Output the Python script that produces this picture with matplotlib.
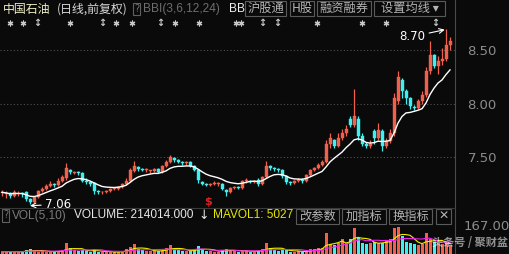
import matplotlib
matplotlib.use("Agg")
import matplotlib.pyplot as plt
from matplotlib.patches import Rectangle
import numpy as np
import pandas as pd

# daily candles, oldest first
opens = [7.16, 7.15, 7.16, 7.14, 7.16, 7.16, 7.17, 7.11, 7.08, 7.13,
         7.18, 7.20, 7.23, 7.25, 7.24, 7.28, 7.30, 7.38, 7.35, 7.36,
         7.35, 7.28, 7.27, 7.26, 7.18, 7.17, 7.17, 7.18, 7.20, 7.20,
         7.22, 7.25, 7.28, 7.37, 7.41, 7.39, 7.38, 7.37, 7.37, 7.39,
         7.36, 7.42, 7.45, 7.49, 7.47, 7.45, 7.44, 7.45, 7.42, 7.38,
         7.27, 7.25, 7.24, 7.25, 7.25, 7.25, 7.19, 7.17, 7.21, 7.22,
         7.21, 7.28, 7.28, 7.27, 7.29, 7.25, 7.31, 7.42, 7.40, 7.39,
         7.38, 7.32, 7.27, 7.26, 7.28, 7.29, 7.28, 7.33, 7.38, 7.40,
         7.43, 7.45, 7.62, 7.66, 7.60, 7.68, 7.72, 7.86, 7.80, 7.86,
         7.70, 7.62, 7.60, 7.74, 7.68, 7.74, 7.60, 7.65, 7.72, 8.02,
         8.22, 8.12, 8.05, 7.97, 7.96, 8.02, 8.08, 8.30, 8.45, 8.35,
         8.40, 8.42, 8.55]
closes = [7.17, 7.16, 7.14, 7.17, 7.16, 7.15, 7.11, 7.08, 7.13, 7.18,
          7.20, 7.23, 7.25, 7.24, 7.28, 7.31, 7.40, 7.36, 7.36, 7.35,
          7.28, 7.27, 7.25, 7.18, 7.17, 7.17, 7.18, 7.20, 7.21, 7.22,
          7.25, 7.28, 7.38, 7.42, 7.39, 7.38, 7.38, 7.37, 7.39, 7.36,
          7.42, 7.45, 7.50, 7.47, 7.45, 7.44, 7.45, 7.42, 7.38, 7.29,
          7.25, 7.24, 7.25, 7.26, 7.25, 7.20, 7.17, 7.21, 7.22, 7.21,
          7.28, 7.29, 7.27, 7.28, 7.25, 7.31, 7.42, 7.40, 7.39, 7.38,
          7.32, 7.27, 7.26, 7.28, 7.29, 7.28, 7.33, 7.38, 7.40, 7.43,
          7.45, 7.62, 7.68, 7.60, 7.68, 7.72, 7.76, 7.80, 7.88, 7.70,
          7.62, 7.60, 7.62, 7.68, 7.75, 7.60, 7.65, 7.72, 8.05, 8.25,
          8.12, 8.05, 7.98, 7.96, 8.02, 8.08, 8.30, 8.45, 8.35, 8.40,
          8.42, 8.55, 8.58]
highs = [7.19, 7.18, 7.17, 7.19, 7.18, 7.17, 7.18, 7.12, 7.14, 7.19,
         7.22, 7.25, 7.28, 7.26, 7.30, 7.33, 7.44, 7.39, 7.37, 7.37,
         7.36, 7.30, 7.28, 7.27, 7.19, 7.18, 7.19, 7.21, 7.22, 7.23,
         7.26, 7.30, 7.40, 7.46, 7.42, 7.40, 7.40, 7.38, 7.40, 7.40,
         7.43, 7.47, 7.52, 7.50, 7.48, 7.46, 7.46, 7.46, 7.43, 7.39,
         7.28, 7.26, 7.26, 7.28, 7.27, 7.26, 7.20, 7.22, 7.23, 7.23,
         7.29, 7.30, 7.29, 7.29, 7.30, 7.32, 7.46, 7.43, 7.41, 7.40,
         7.39, 7.33, 7.28, 7.29, 7.30, 7.30, 7.34, 7.39, 7.41, 7.44,
         7.47, 7.66, 7.72, 7.67, 7.72, 7.76, 7.80, 7.88, 8.14, 7.88,
         7.72, 7.64, 7.66, 7.76, 7.82, 7.76, 7.68, 7.76, 8.10, 8.30,
         8.24, 8.14, 8.06, 7.99, 8.04, 8.12, 8.34, 8.58, 8.46, 8.44,
         8.52, 8.70, 8.62]
lows = [7.14, 7.12, 7.12, 7.13, 7.14, 7.13, 7.09, 7.06, 7.07, 7.12,
        7.17, 7.19, 7.22, 7.22, 7.23, 7.27, 7.29, 7.34, 7.34, 7.33,
        7.27, 7.25, 7.23, 7.15, 7.15, 7.15, 7.16, 7.17, 7.19, 7.19,
        7.21, 7.24, 7.27, 7.36, 7.37, 7.37, 7.36, 7.35, 7.36, 7.35,
        7.35, 7.41, 7.44, 7.45, 7.44, 7.43, 7.43, 7.41, 7.37, 7.26,
        7.24, 7.23, 7.23, 7.24, 7.23, 7.19, 7.14, 7.16, 7.20, 7.20,
        7.20, 7.26, 7.26, 7.26, 7.23, 7.24, 7.30, 7.38, 7.37, 7.36,
        7.30, 7.25, 7.24, 7.25, 7.27, 7.26, 7.27, 7.32, 7.37, 7.39,
        7.42, 7.44, 7.58, 7.58, 7.59, 7.66, 7.70, 7.78, 7.78, 7.66,
        7.60, 7.58, 7.58, 7.62, 7.66, 7.56, 7.58, 7.63, 7.70, 8.00,
        8.05, 8.00, 7.95, 7.94, 7.95, 8.00, 8.06, 8.28, 8.33, 8.28,
        8.36, 8.40, 8.50]
volumes = [15, 12, 18, 14, 12, 16, 25, 30, 20, 15,
           18, 14, 12, 15, 20, 25, 65, 35, 22, 18,
           25, 18, 15, 30, 14, 12, 10, 14, 12, 15,
           20, 28, 45, 60, 30, 22, 18, 16, 20, 18,
           25, 40, 55, 30, 22, 18, 16, 20, 30, 50,
           28, 20, 16, 14, 15, 25, 30, 22, 18, 14,
           20, 22, 15, 14, 18, 30, 65, 40, 25, 20,
           28, 22, 15, 14, 16, 15, 20, 28, 30, 35,
           40, 130, 60, 55, 65, 90, 70, 95, 160, 100,
           65, 60, 70, 75, 65, 70, 80, 90, 160, 165,
           110, 75, 70, 60, 55, 60, 130, 90, 75, 65,
           60, 70, 55]
price_ticks = [7.50, 8.00, 8.50]
vol_top_label = "167.00"

BG = "#0a0a0a"
RED = "#f0604c"
CYAN = "#40f0f0"
GREY = "#8c8c8c"
CJK = ["Noto Sans CJK SC", "DejaVu Sans"]
LAT = "Liberation Sans"

df = pd.DataFrame({"o": opens, "c": closes, "h": highs, "l": lows, "v": volumes})
n = len(df)
idx = np.arange(n)
up = df["c"] >= df["o"]
colors = np.where(up, RED, CYAN)

# BBI(3,6,12,24)
bbi = sum(df["c"].rolling(k, min_periods=1).mean() for k in (3, 6, 12, 24)) / 4
mav1 = df["v"].rolling(5, min_periods=1).mean()
mav2 = df["v"].rolling(10, min_periods=1).mean()

W, H = 510, 254
fig = plt.figure(figsize=(W / 100, H / 100), dpi=100, facecolor=BG)

def rect(x0, y0, x1, y1):
    return [x0 / W, 1 - y1 / H, (x1 - x0) / W, (y1 - y0) / H]

xlim = (-0.5, 113.25)

# price panel
ax = fig.add_axes(rect(0, 28, 455, 207))
ax.set_facecolor(BG)
ax.set_xlim(*xlim)
ax.set_ylim(7.033, 8.706)
for s in ax.spines.values():
    s.set_visible(False)
ax.set_xticks([])
ax.set_yticks(price_ticks)
ax.set_yticklabels(["%.2f" % t for t in price_ticks], color=GREY, fontsize=9.5)
ax.yaxis.tick_right()
ax.tick_params(axis="y", length=0, pad=9)
for t in price_ticks:
    ax.axhline(t, color="#505050", lw=0.8, ls=(0, (1, 2)), zorder=0)

ax.vlines(idx, df["l"], df["h"], colors=colors, lw=0.9, zorder=2)
body = (df["c"] - df["o"]).abs().clip(lower=0.006)
ax.bar(idx, body, bottom=df[["o", "c"]].min(axis=1), width=0.75,
       color=colors, edgecolor=colors, lw=0.3, zorder=3)
ax.plot(idx, bbi, color="white", lw=1.0, zorder=4)

imax = int(df["h"].idxmax())
imin = int(df["l"].idxmin())
ax.annotate("%.2f" % df["h"][imax], xy=(imax - 0.3, df["h"][imax] - 0.01), xytext=(-33, -5),
            textcoords="offset points", color="white", fontsize=8.5, va="center",
            ha="left", arrowprops=dict(arrowstyle="->", color="white", lw=0.8,
                                       shrinkA=1, shrinkB=0))
ax.annotate("%.2f" % df["l"][imin], xy=(imin, df["l"][imin] - 0.015), xytext=(11, 1),
            textcoords="offset points", color="white", fontsize=8.5, va="center",
            arrowprops=dict(arrowstyle="->", color="white", lw=0.8, shrinkA=1, shrinkB=0))
ax.text(51.5, 7.08, "$", color="#e02020", fontsize=8, fontweight="bold",
        ha="center", va="center")

# volume panel
vax = fig.add_axes(rect(0, 222, 455, 254))
vax.set_facecolor(BG)
vax.set_xlim(*xlim)
vax.set_ylim(0, 198)
vax.axis("off")
vax.bar(idx, df["v"], width=0.75, color=colors, lw=0)
vax.plot(idx, mav1, color="#f0f000", lw=0.8)
vax.plot(idx, mav2, color="#f020f0", lw=0.8)

# overlay in pixel coordinates for header, buttons, separators
ov = fig.add_axes([0, 0, 1, 1])
ov.set_xlim(0, W)
ov.set_ylim(H, 0)
ov.axis("off")
ov.patch.set_alpha(0)

ov.plot([455, 455], [0, H], color="#4a4a4a", lw=0.8)
ov.plot([0, 455], [207.5, 207.5], color="#3a3a3a", lw=0.8)

ov.text(3, 9, "中国石油", color="#f0f0c8", fontsize=8.6, family=CJK, va="center")
ov.text(57, 9, "(日线,前复权)", color="#d8d8d8", fontsize=8.6, family=CJK, va="center")
ov.add_patch(Rectangle((133, 3), 7, 12, fill=False, ec="#606060", lw=0.8))
ov.text(136.5, 9, "?", color="#707070", fontsize=7, ha="center", va="center")
ov.text(143, 9, "BBI(3,6,12,24)", color="#6e6e6e", fontsize=8.6, family=LAT, va="center")
ov.text(229, 9, "BB", color="#f0f0f0", fontsize=8.6, family=LAT, va="center")

buttons = [(245, 286, "沪股通"), (290, 314, "H股"), (317, 371, "融资融券"),
           (374, 445, "设置均线 ▾")]
for x0, x1, lab in buttons:
    ov.add_patch(Rectangle((x0, 1), x1 - x0, 15, fill=False, ec="#5a5a5a", lw=0.8))
    ov.text((x0 + x1) / 2, 8.5, lab, color="#b4b4b4", fontsize=8.8, family=CJK,
            ha="center", va="center")

stars = [10, 23, 70, 116, 132, 175, 199, 236, 241, 317, 362, 386]
arrows = [37, 102, 160, 262, 277, 435]
ov.scatter(stars, [22.5] * len(stars), marker=(6, 2, 0), s=12, color="#c8c8c8", lw=0.9)
for x in arrows:
    ov.text(x, 22.5, "↕", color="#c8c8c8", fontsize=7, ha="center", va="center",
            fontweight="bold")

# volume header
ov.add_patch(Rectangle((2, 209), 7, 13, fill=False, ec="#606060", lw=0.8))
ov.text(5.5, 215.5, "?", color="#707070", fontsize=7, ha="center", va="center")
ov.text(12, 215.5, "VOL(5,10)", color="#7a7a7a", fontsize=8.6, family=LAT, va="center")
ov.text(74, 215.5, "VOLUME: 214014.000", color="#e6e6e6", fontsize=8.6, family=LAT,
        va="center")
ov.text(204, 215.5, "↓", color="#e6e6e6", fontsize=9, ha="center", va="center")
ov.text(213, 215.5, "MAVOL1: 5027", color="#e6e600", fontsize=8.6,
        family=LAT, va="center")

vbuttons = [(296, 339, "改参数"), (342, 386, "加指标"), (389, 432, "换指标"),
            (436, 451, "✕")]
for x0, x1, lab in vbuttons:
    ov.add_patch(Rectangle((x0, 208.5), x1 - x0, 15.5, fill=False, ec="#5a5a5a", lw=0.8))
    ov.text((x0 + x1) / 2, 216, lab, color="#b4b4b4", fontsize=8.8, family=CJK,
            ha="center", va="center")

ov.text(487, 227, vol_top_label, color=GREY, fontsize=9.5, ha="center", va="center")
ov.text(470, 242, "头条号 / 聚财盆", color="white", alpha=0.55, fontsize=8,
        family=CJK, ha="center", va="center", fontweight="bold")

fig.savefig("out.png", dpi=100, facecolor=BG)
